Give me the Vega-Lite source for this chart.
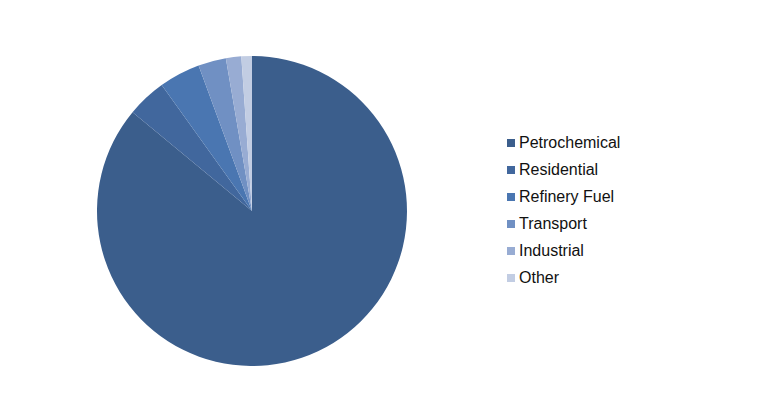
{
  "$schema": "https://vega.github.io/schema/vega-lite/v6.json",
  "width": 504,
  "height": 422,
  "padding": 0,
  "autosize": {"type": "pad"},
  "background": "white",
  "view": {"stroke": null},
  "data": {
    "values": [
      {"sector": "Petrochemical", "share": 86.0, "ord": 1},
      {"sector": "Residential", "share": 4.1, "ord": 2},
      {"sector": "Refinery Fuel", "share": 4.3, "ord": 3},
      {"sector": "Transport", "share": 2.9, "ord": 4},
      {"sector": "Industrial", "share": 1.6, "ord": 5},
      {"sector": "Other", "share": 1.1, "ord": 6}
    ]
  },
  "mark": {"type": "arc", "outerRadius": 155},
  "encoding": {
    "theta": {"field": "share", "type": "quantitative", "stack": true},
    "order": {"field": "ord", "type": "quantitative"},
    "color": {
      "field": "sector",
      "type": "nominal",
      "scale": {
        "domain": ["Petrochemical", "Residential", "Refinery Fuel", "Transport", "Industrial", "Other"],
        "range": ["#3b5e8c", "#41679d", "#4a76b1", "#7090c3", "#98acd3", "#c2cde3"]
      },
      "legend": {
        "title": null,
        "orient": "none",
        "legendX": 503,
        "legendY": 135,
        "symbolType": "square",
        "symbolSize": 64,
        "symbolStrokeWidth": 0,
        "labelFont": "Liberation Sans",
        "labelFontSize": 16,
        "labelColor": "#111111",
        "labelOffset": 0,
        "rowPadding": 11
      }
    }
  }
}
